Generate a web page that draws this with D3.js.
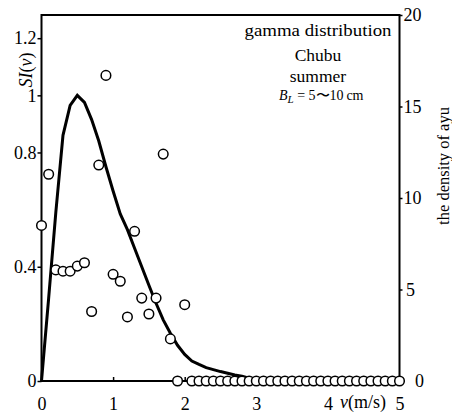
<!DOCTYPE html>
<html>
<head>
<meta charset="utf-8">
<script src="https://cdn.jsdelivr.net/npm/d3@7"></script>
<style>
  html, body { margin: 0; padding: 0; background: #fff; }
  svg { display: block; }
  text { font-family: "Liberation Serif", "Times New Roman", serif; fill: #000; }
</style>
</head>
<body>
<div id="chart"></div>
<script>
// ---- data ----
const speeds = [0, 0.1, 0.2, 0.3, 0.4, 0.5, 0.6, 0.7, 0.8, 0.9,
  1.0, 1.1, 1.2, 1.3, 1.4, 1.5, 1.6, 1.7, 1.8, 1.9,
  2.0, 2.1, 2.2, 2.3, 2.4, 2.5, 2.6, 2.7, 2.8, 2.9,
  3.0, 3.1, 3.2, 3.3, 3.4, 3.5, 3.6, 3.7, 3.8, 3.9,
  4.0, 4.1, 4.2, 4.3, 4.4, 4.5, 4.6, 4.7, 4.8, 4.9, 5.0];
// gamma distribution suitability index SI(v) (left axis)
const siValues = [0, 0.29, 0.59, 0.86, 0.965, 1.0, 0.975, 0.915, 0.84, 0.75,
  0.665, 0.585, 0.53, 0.465, 0.40, 0.335, 0.272, 0.214, 0.167, 0.125,
  0.093, 0.07, 0.058, 0.047, 0.04, 0.033, 0.027, 0.021, 0.017, 0.01,
  0.005, 0, 0, 0, 0, 0, 0, 0, 0, 0,
  0, 0, 0, 0, 0, 0, 0, 0, 0, 0, 0];
// observed density of ayu (right axis)
const densityValues = [8.5, 11.3, 6.07, 6.0, 6.0, 6.28, 6.46, 3.8, 11.8, 16.7,
  5.83, 5.45, 3.5, 8.18, 4.53, 3.66, 4.53, 12.4, 2.3, 0,
  4.17, 0, 0, 0, 0, 0, 0, 0, 0, 0,
  0, 0, 0, 0, 0, 0, 0, 0, 0, 0,
  0, 0, 0, 0, 0, 0, 0, 0, 0, 0, 0];
const xTicks = [0, 1, 2, 3, 4, 5];
const yLeftTicks = [0, 0.4, 0.8, 1, 1.2];
const yRightTicks = [0, 5, 10, 15, 20];
const legendLines = ["gamma distribution", "Chubu", "summer"];

// ---- layout ----
const W = 452, H = 414;
const L = 41.5, R = 399.5, T = 15, B = 381;
const FONT = "'Liberation Serif', 'Times New Roman', serif";

const svg = d3.select("#chart").append("svg").attr("width", W).attr("height", H);

const x = d3.scaleLinear().domain([0, 5]).range([L, R]);
const yL = d3.scaleLinear().domain([0, 1.2]).range([B, B - 342.8]);
const yR = d3.scaleLinear().domain([0, 20]).range([B, T]);

// top border
svg.append("line").attr("x1", L).attr("x2", R).attr("y1", T).attr("y2", T)
  .attr("stroke", "#000").attr("stroke-width", 2);

// left axis
const gl = svg.append("g").attr("transform", `translate(${L},0)`)
  .call(d3.axisLeft(yL).tickValues(yLeftTicks).tickFormat(d => String(d))
    .tickSizeInner(4).tickSizeOuter(0).tickPadding(1));
gl.select(".domain").remove();
gl.append("line").attr("x1", 0).attr("x2", 0).attr("y1", T - 1).attr("y2", B + 1)
  .attr("stroke", "#000").attr("stroke-width", 2);

// right axis
const gr = svg.append("g").attr("transform", `translate(${R},0)`)
  .call(d3.axisRight(yR).tickValues(yRightTicks).tickFormat(d => String(d))
    .tickSizeInner(3).tickSizeOuter(0).tickPadding(10));
gr.select(".domain").remove();
gr.append("line").attr("x1", 0).attr("x2", 0).attr("y1", T - 1).attr("y2", B + 1)
  .attr("stroke", "#000").attr("stroke-width", 2);
gr.selectAll(".tick text").attr("text-anchor", "middle")
  .attr("dx", d => d === 0 ? 7 : (d === 5 ? -2 : 0));

// bottom axis
const gb = svg.append("g").attr("transform", `translate(0,${B})`)
  .call(d3.axisBottom(x).tickValues(xTicks).tickFormat(d => String(d))
    .tickSizeInner(-4).tickSizeOuter(0).tickPadding(16));
gb.select(".domain").remove();
gb.append("line").attr("x1", L - 1).attr("x2", R + 1).attr("y1", 0).attr("y2", 0)
  .attr("stroke", "#000").attr("stroke-width", 2);

[gl, gr, gb].forEach(g => {
  g.selectAll(".tick line").attr("stroke", "#000").attr("stroke-width", 1.5);
  g.selectAll(".tick text").attr("font-size", 18)
    .attr("font-family", FONT).attr("fill", "#000");
});

// SI curve
const curveData = speeds.map((s, i) => ({ s, v: siValues[i] }));
svg.append("path").datum(curveData)
  .attr("fill", "none").attr("stroke", "#000").attr("stroke-width", 3)
  .attr("stroke-linejoin", "miter")
  .attr("d", d3.line().x(d => x(d.s)).y(d => yL(d.v)));

// density circles
const pts = speeds.map((s, i) => ({ s, v: densityValues[i] }));
svg.append("g").selectAll("circle").data(pts).join("circle")
  .attr("cx", d => x(d.s)).attr("cy", d => yR(d.v)).attr("r", 4.8)
  .attr("fill", "#fff").attr("stroke", "#000").attr("stroke-width", 1.5);

// axis titles
const yl = svg.append("text").attr("transform", "translate(32,70) rotate(-90)")
  .attr("text-anchor", "middle").attr("font-size", 18);
yl.append("tspan").attr("font-style", "italic").text("SI");
yl.append("tspan").text("(");
yl.append("tspan").attr("font-style", "italic").text("v");
yl.append("tspan").text(")");

svg.append("text").attr("transform", "translate(449,166) rotate(-90)")
  .attr("text-anchor", "middle").attr("font-size", 16.5).text("the density of ayu");

const xl = svg.append("text").attr("x", 340).attr("y", 408).attr("font-size", 18);
xl.append("tspan").attr("font-style", "italic").text("v");
xl.append("tspan").text("(m/s)");

// legend / annotation
const legY = [36, 61, 81.5];
legendLines.forEach((t, i) => {
  const el = svg.append("text").attr("x", 318).attr("y", legY[i]).attr("text-anchor", "middle")
    .attr("font-size", 17.5).text(t);
  if (i === 0) el.attr("textLength", 147).attr("lengthAdjust", "spacingAndGlyphs");
});
const bl = svg.append("text").attr("x", 279).attr("y", 100).attr("font-size", 14);
bl.append("tspan").attr("font-style", "italic").text("B");
bl.append("tspan").attr("font-style", "italic").attr("font-size", 11).attr("dy", 3).text("L");
bl.append("tspan").attr("dy", -3).text(" = 5\u301C10\u2009cm");
</script>
</body>
</html>
